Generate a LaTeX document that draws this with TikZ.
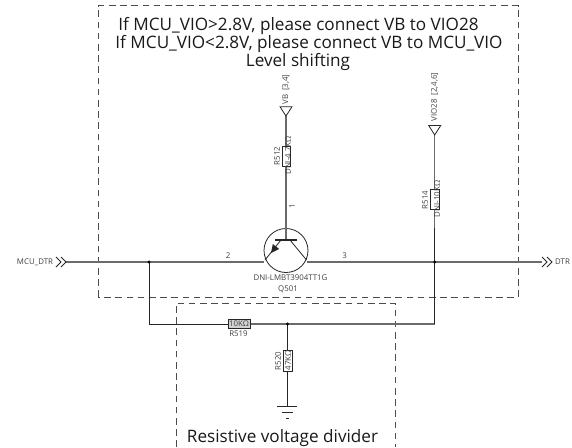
\documentclass[tikz,border=0pt]{standalone}
\usepackage{fontspec}
\setmainfont{Open Sans}
\usetikzlibrary{calc}
\definecolor{wiregray}{gray}{0.42}
\definecolor{txt}{gray}{0.25}
\tikzset{
 x=0.75pt,y=-0.75pt,
 wire/.style={line width=0.75pt,draw=black!85},
 gwire/.style={line width=0.95pt,draw=wiregray},
 frame/.style={line width=0.65pt,draw=black!70,dash pattern=on 5pt off 3.4pt},
 small/.style={font=\fontsize{5.9}{6}\selectfont,text=txt,inner sep=0pt},
 big/.style={font=\fontsize{12.85}{14}\selectfont,text=black!90,inner sep=0pt},
 jun/.style={circle,fill=black,inner sep=0pt,minimum size=2.4pt},
 thin/.style={line width=0.6pt,draw=black!85},
}
\newcommand{\dblchev}[2]{%
 \draw[line width=0.6pt,black!85] (#1,#2-5) -- ++(5,5) -- ++(-5,5);
 \draw[line width=0.6pt,black!85] (#1+5,#2-5) -- ++(5,5) -- ++(-5,5);}
\begin{document}
\begin{tikzpicture}
\useasboundingbox (0,0) rectangle (572,447);
% frames
\draw[frame] (98,297) -- (98,5.5) -- (518.5,5.5) -- (518.5,297) -- cycle;
\draw[frame] (176,447) -- (176,303) -- (395,303) -- (395,447);
% titles
\node[big] (t1) at (298.5,26) {If MCU\_VIO>2.8V, please connect VB to VIO28};
\node[big] (t2) at (309,44) {If MCU\_VIO<2.8V, please connect VB to MCU\_VIO};
\node[big] (t3) at (298,62) {Level shifting};
\node[big] (t4) at (282.5,438) {Resistive voltage divider};
% connection points
\coordinate (left) at (66,262);
\coordinate (right) at (542,262);
\coordinate (jl) at (149,262);
\coordinate (jr) at (434.7,262);
\coordinate (bl) at (149,324);
\coordinate (br) at (434.7,324);
\coordinate (jm) at (287.5,324);
\coordinate (gnd) at (287.5,406);
\coordinate (tb) at (263.5,262);
\coordinate (te) at (307,262);
\coordinate (ee) at (265,260);
\coordinate (ce) at (306.5,260);
\coordinate (vbt) at (286,116);
\coordinate (viot) at (434.7,135);
\coordinate (tc) at (286,240);
% transistor
\node[circle,draw=black!85,line width=0.6pt,minimum size=33pt,inner sep=0pt] (q) at (286,250.5) {};
% wires
\draw[gwire] (left) -- (tb);
\draw[gwire] (te) -- (right);
\draw[wire] (jl) -- (bl) -- (228,324);
\draw[gwire] (250,324) -- (br);
\draw[wire] (br) -- (jr);
\draw[wire] (jr) -- (434.7,228);
\draw[gwire] (434.7,228) -- (viot);
\draw[gwire] (vbt) -- (tc);
\draw[wire] (jm) -- (gnd);
\node[jun] (j1) at (jl) {};
\node[jun] (j2) at (jr) {};
\node[jun] (j3) at (jm) {};
% transistor details
\draw[line width=1.4pt,black!85] (275,240) -- (297,240);
\draw[thin] (290,240) -- (ce);
\draw[thin] (281,240) -- (ee);
\fill[black!85] (271,253) -- (279.2,249) -- (272.8,244) -- cycle;
% triangles
\draw[thin] (280,106.7) -- (292,106.7) -- (vbt) -- cycle;
\draw[thin] (428.7,125.5) -- (440.7,125.5) -- (viot) -- cycle;
% arrows
\dblchev{56}{262}
\dblchev{542}{262}
% ground
\draw[thin] (277,406) -- (297,406);
\draw[thin] (282,412) -- (293,412);
\draw[thin] (286,418) -- (289,418);
% resistors
\draw[thin,fill=white] (282,146) rectangle (290.5,166);
\draw[thin,fill=white] (430.5,189.3) rectangle (439,209);
\draw[thin,fill=black!18] (228,319.5) rectangle (250,328);
\draw[thin,fill=white] (283,350) rectangle (292,371);
% labels
\node[small,rotate=90] (l1) at (286,89.5) {VB\hspace{3pt}[3,4]};
\node[small,rotate=90] (l2) at (434.7,97) {VIO28\hspace{3pt}[2,4,6]};
\node[small,rotate=90] (l3) at (277,156) {R512};
\node[small,rotate=90] (l4) at (288,155.5) {DNI-4.7KΩ};
\node[small,rotate=90] (l5) at (425,200) {R514};
\node[small,rotate=90] (l6) at (437,199) {DNI-10KΩ};
\node[small,rotate=90] (l7) at (292,206) {1};
\node[small] (l8) at (228,256) {2};
\node[small] (l9) at (344.5,256) {3};
\node[small] (l10) at (290.5,278) {DNI-LMBT3904TT1G};
\node[small] (l11) at (288,289) {Q501};
\node[small] (l12) at (238.5,334) {R519};
\node[small] (l13) at (239,324) {10KΩ};
\node[small,rotate=90] (l14) at (278,361) {R520};
\node[small,rotate=90] (l15) at (288,360.5) {47KΩ};
\node[small] (l16) at (35,262.5) {MCU\_DTR};
\node[small] (l17) at (562.5,262) {DTR};
\end{tikzpicture}
\end{document}
